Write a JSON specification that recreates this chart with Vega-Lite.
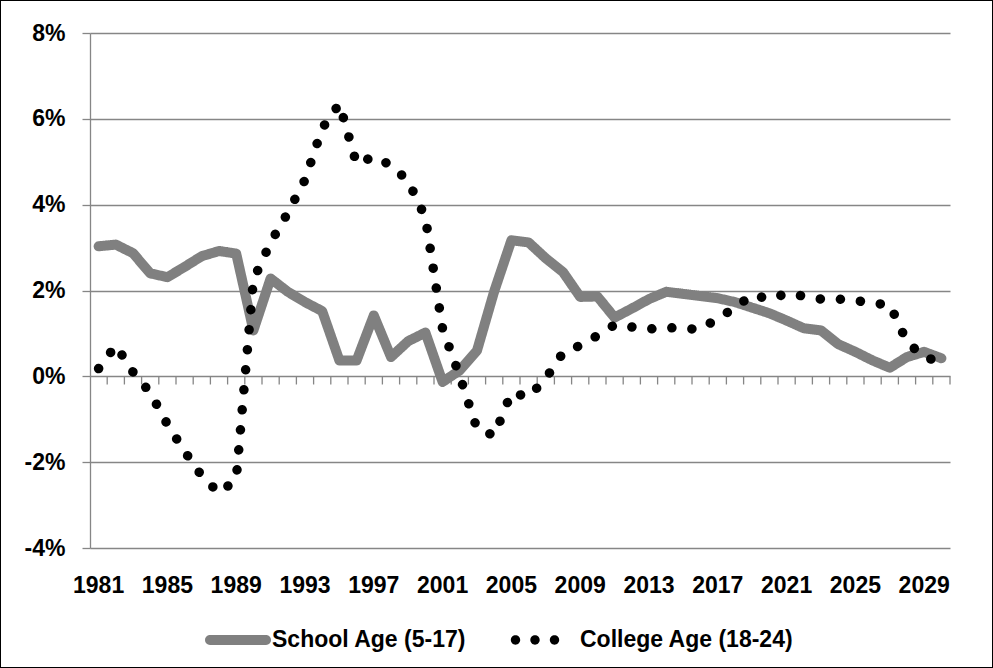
{
  "$schema": "https://vega.github.io/schema/vega-lite/v6.json",
  "width": 993,
  "height": 668,
  "autosize": {"type": "none"},
  "padding": 0,
  "background": "white",
  "config": {
    "view": {"stroke": "black", "strokeWidth": 2},
    "font": "Liberation Sans"
  },
  "datasets": {
    "growth": [
      {"year": 1981, "school": 3.03, "college": 0.18},
      {"year": 1982, "school": 3.07, "college": 0.72},
      {"year": 1983, "school": 2.87, "college": 0.1},
      {"year": 1984, "school": 2.4, "college": -0.38},
      {"year": 1985, "school": 2.31, "college": -1.12},
      {"year": 1986, "school": 2.55, "college": -1.75},
      {"year": 1987, "school": 2.8, "college": -2.32},
      {"year": 1988, "school": 2.92, "college": -2.72},
      {"year": 1989, "school": 2.86, "college": -2.4},
      {"year": 1990, "school": 1.07, "college": 2.25},
      {"year": 1991, "school": 2.28, "college": 3.12},
      {"year": 1992, "school": 1.97, "college": 3.81},
      {"year": 1993, "school": 1.73, "college": 4.58},
      {"year": 1994, "school": 1.52, "college": 5.78},
      {"year": 1995, "school": 0.37, "college": 6.35},
      {"year": 1996, "school": 0.37, "college": 4.95},
      {"year": 1997, "school": 1.42, "college": 5.12},
      {"year": 1998, "school": 0.45, "college": 4.92},
      {"year": 1999, "school": 0.82, "college": 4.55},
      {"year": 2000, "school": 1.02, "college": 3.7},
      {"year": 2001, "school": -0.13, "college": 1.1},
      {"year": 2002, "school": 0.14, "college": 0.0},
      {"year": 2003, "school": 0.6, "college": -1.22},
      {"year": 2004, "school": 1.98, "college": -1.38},
      {"year": 2005, "school": 3.17, "college": -0.38},
      {"year": 2006, "school": 3.12, "college": -0.48},
      {"year": 2007, "school": 2.75, "college": -0.05},
      {"year": 2008, "school": 2.43, "college": 0.55},
      {"year": 2009, "school": 1.85, "college": 0.72},
      {"year": 2010, "school": 1.86, "college": 0.95},
      {"year": 2011, "school": 1.37, "college": 1.2},
      {"year": 2012, "school": 1.58, "college": 1.15},
      {"year": 2013, "school": 1.8, "college": 1.1},
      {"year": 2014, "school": 1.97, "college": 1.14},
      {"year": 2015, "school": 1.92, "college": 1.11},
      {"year": 2016, "school": 1.87, "college": 1.1},
      {"year": 2017, "school": 1.82, "college": 1.35},
      {"year": 2018, "school": 1.73, "college": 1.6},
      {"year": 2019, "school": 1.6, "college": 1.9},
      {"year": 2020, "school": 1.47, "college": 1.8},
      {"year": 2021, "school": 1.3, "college": 1.93},
      {"year": 2022, "school": 1.12, "college": 1.87},
      {"year": 2023, "school": 1.07, "college": 1.8},
      {"year": 2024, "school": 0.75, "college": 1.8},
      {"year": 2025, "school": 0.57, "college": 1.77},
      {"year": 2026, "school": 0.37, "college": 1.7},
      {"year": 2027, "school": 0.2, "college": 1.67},
      {"year": 2028, "school": 0.45, "college": 0.8},
      {"year": 2029, "school": 0.57, "college": 0.45},
      {"year": 2030, "school": 0.42, "college": 0.33}
    ]
  },
  "data": {"name": "growth"},
  "transform": [
    {"fold": ["school", "college"], "as": ["key", "value"]},
    {"lookup": "key", "from": {"data": {"values": [
      {"key": "school", "series": "School Age (5-17)"},
      {"key": "college", "series": "College Age (18-24)"}
    ]}, "key": "key", "fields": ["series"]}}
  ],
  "encoding": {
    "x": {
      "field": "year",
      "type": "ordinal",
      "scale": {"type": "band", "range": [90, 950], "paddingInner": 0, "paddingOuter": 0},
      "axis": {
        "orient": "bottom",
        "offset": -120,
        "title": null,
        "domain": false,
        "ticks": false,
        "tickSize": 0,
        "grid": false,
        "labelAngle": 0,
        "labelPadding": 26,
        "labelFont": "Liberation Sans",
        "labelFontWeight": "bold",
        "labelFontSize": 23,
        "labelColor": "black",
        "values": [1981, 1985, 1989, 1993, 1997, 2001, 2005, 2009, 2013, 2017, 2021, 2025, 2029]
      }
    },
    "y": {
      "field": "value",
      "type": "quantitative",
      "scale": {"domain": [-4, 8], "range": [548, 33], "nice": false, "zero": false},
      "axis": {
        "orient": "left",
        "offset": -90,
        "title": null,
        "values": [-4, -2, 0, 2, 4, 6, 8],
        "labelExpr": "datum.value + '%'",
        "domain": true,
        "domainColor": "#868686",
        "domainWidth": 1.3,
        "ticks": true,
        "tickSize": 8,
        "tickColor": "#868686",
        "tickWidth": 1.3,
        "grid": true,
        "gridColor": "#868686",
        "gridWidth": 1.3,
        "labelPadding": 17,
        "labelFont": "Liberation Sans",
        "labelFontWeight": "bold",
        "labelFontSize": 23,
        "labelColor": "black"
      }
    }
  },
  "layer": [
    {
      "transform": [{"filter": "datum.key == 'school'"}],
      "mark": {"type": "rule", "color": "#868686", "strokeWidth": 1.3},
      "encoding": {
        "x": {"field": "year", "type": "ordinal", "bandPosition": 1},
        "y": {"datum": 0, "type": "quantitative"},
        "y2": {"datum": -0.19}
      }
    },
    {
      "mark": {"type": "point", "filled": true, "opacity": 0, "size": 10},
      "encoding": {
        "color": {
          "field": "series",
          "type": "nominal",
          "scale": {"domain": ["School Age (5-17)", "College Age (18-24)"], "range": ["#808080", "#000000"]},
          "legend": {
            "title": null,
            "orient": "none",
            "direction": "horizontal",
            "legendX": 205,
            "legendY": 607,
            "padding": 0,
            "symbolSize": 4356,
            "symbolStrokeWidth": 0,
            "symbolOpacity": 1,
            "labelOffset": 1,
            "columnPadding": 43,
            "labelFont": "Liberation Sans",
            "labelFontWeight": "bold",
            "labelFontSize": 23,
            "labelColor": "black",
            "labelLimit": 400
          }
        },
        "shape": {
          "field": "series",
          "type": "nominal",
          "scale": {
            "domain": ["School Age (5-17)", "College Age (18-24)"],
            "range": [
              "M-0.85,-0.15 L0.85,-0.15 A0.15,0.15 0 0 1 0.85,0.15 L-0.85,0.15 A0.15,0.15 0 0 1 -0.85,-0.15 Z",
              "M-1.066,0 A0.142,0.142 0 1 0 -0.782,0 A0.142,0.142 0 1 0 -1.066,0 Z M-0.475,0 A0.142,0.142 0 1 0 -0.191,0 A0.142,0.142 0 1 0 -0.475,0 Z M0.116,0 A0.142,0.142 0 1 0 0.4,0 A0.142,0.142 0 1 0 0.116,0 Z"
            ]
          },
          "legend": {
            "title": null,
            "orient": "none",
            "direction": "horizontal",
            "legendX": 205,
            "legendY": 607,
            "padding": 0,
            "symbolSize": 4356,
            "symbolStrokeWidth": 0,
            "symbolOpacity": 1,
            "labelOffset": 1,
            "columnPadding": 43,
            "labelFont": "Liberation Sans",
            "labelFontWeight": "bold",
            "labelFontSize": 23,
            "labelColor": "black",
            "labelLimit": 400
          }
        }
      }
    },
    {
      "transform": [{"filter": "datum.key == 'school'"}],
      "mark": {"type": "line", "strokeWidth": 10, "strokeCap": "round", "strokeJoin": "round"},
      "encoding": {
        "color": {"field": "series", "type": "nominal"},
        "strokeDash": {
          "field": "series",
          "type": "nominal",
          "scale": {"domain": ["School Age (5-17)", "College Age (18-24)"], "range": [[1, 0], [0.1, 20]]},
          "legend": null
        }
      }
    },
    {
      "transform": [{"filter": "datum.key == 'college'"}],
      "mark": {"type": "line", "strokeWidth": 9.5, "strokeCap": "round", "strokeJoin": "round"},
      "encoding": {
        "color": {"field": "series", "type": "nominal"},
        "strokeDash": {"field": "series", "type": "nominal", "legend": null}
      }
    }
  ]
}
